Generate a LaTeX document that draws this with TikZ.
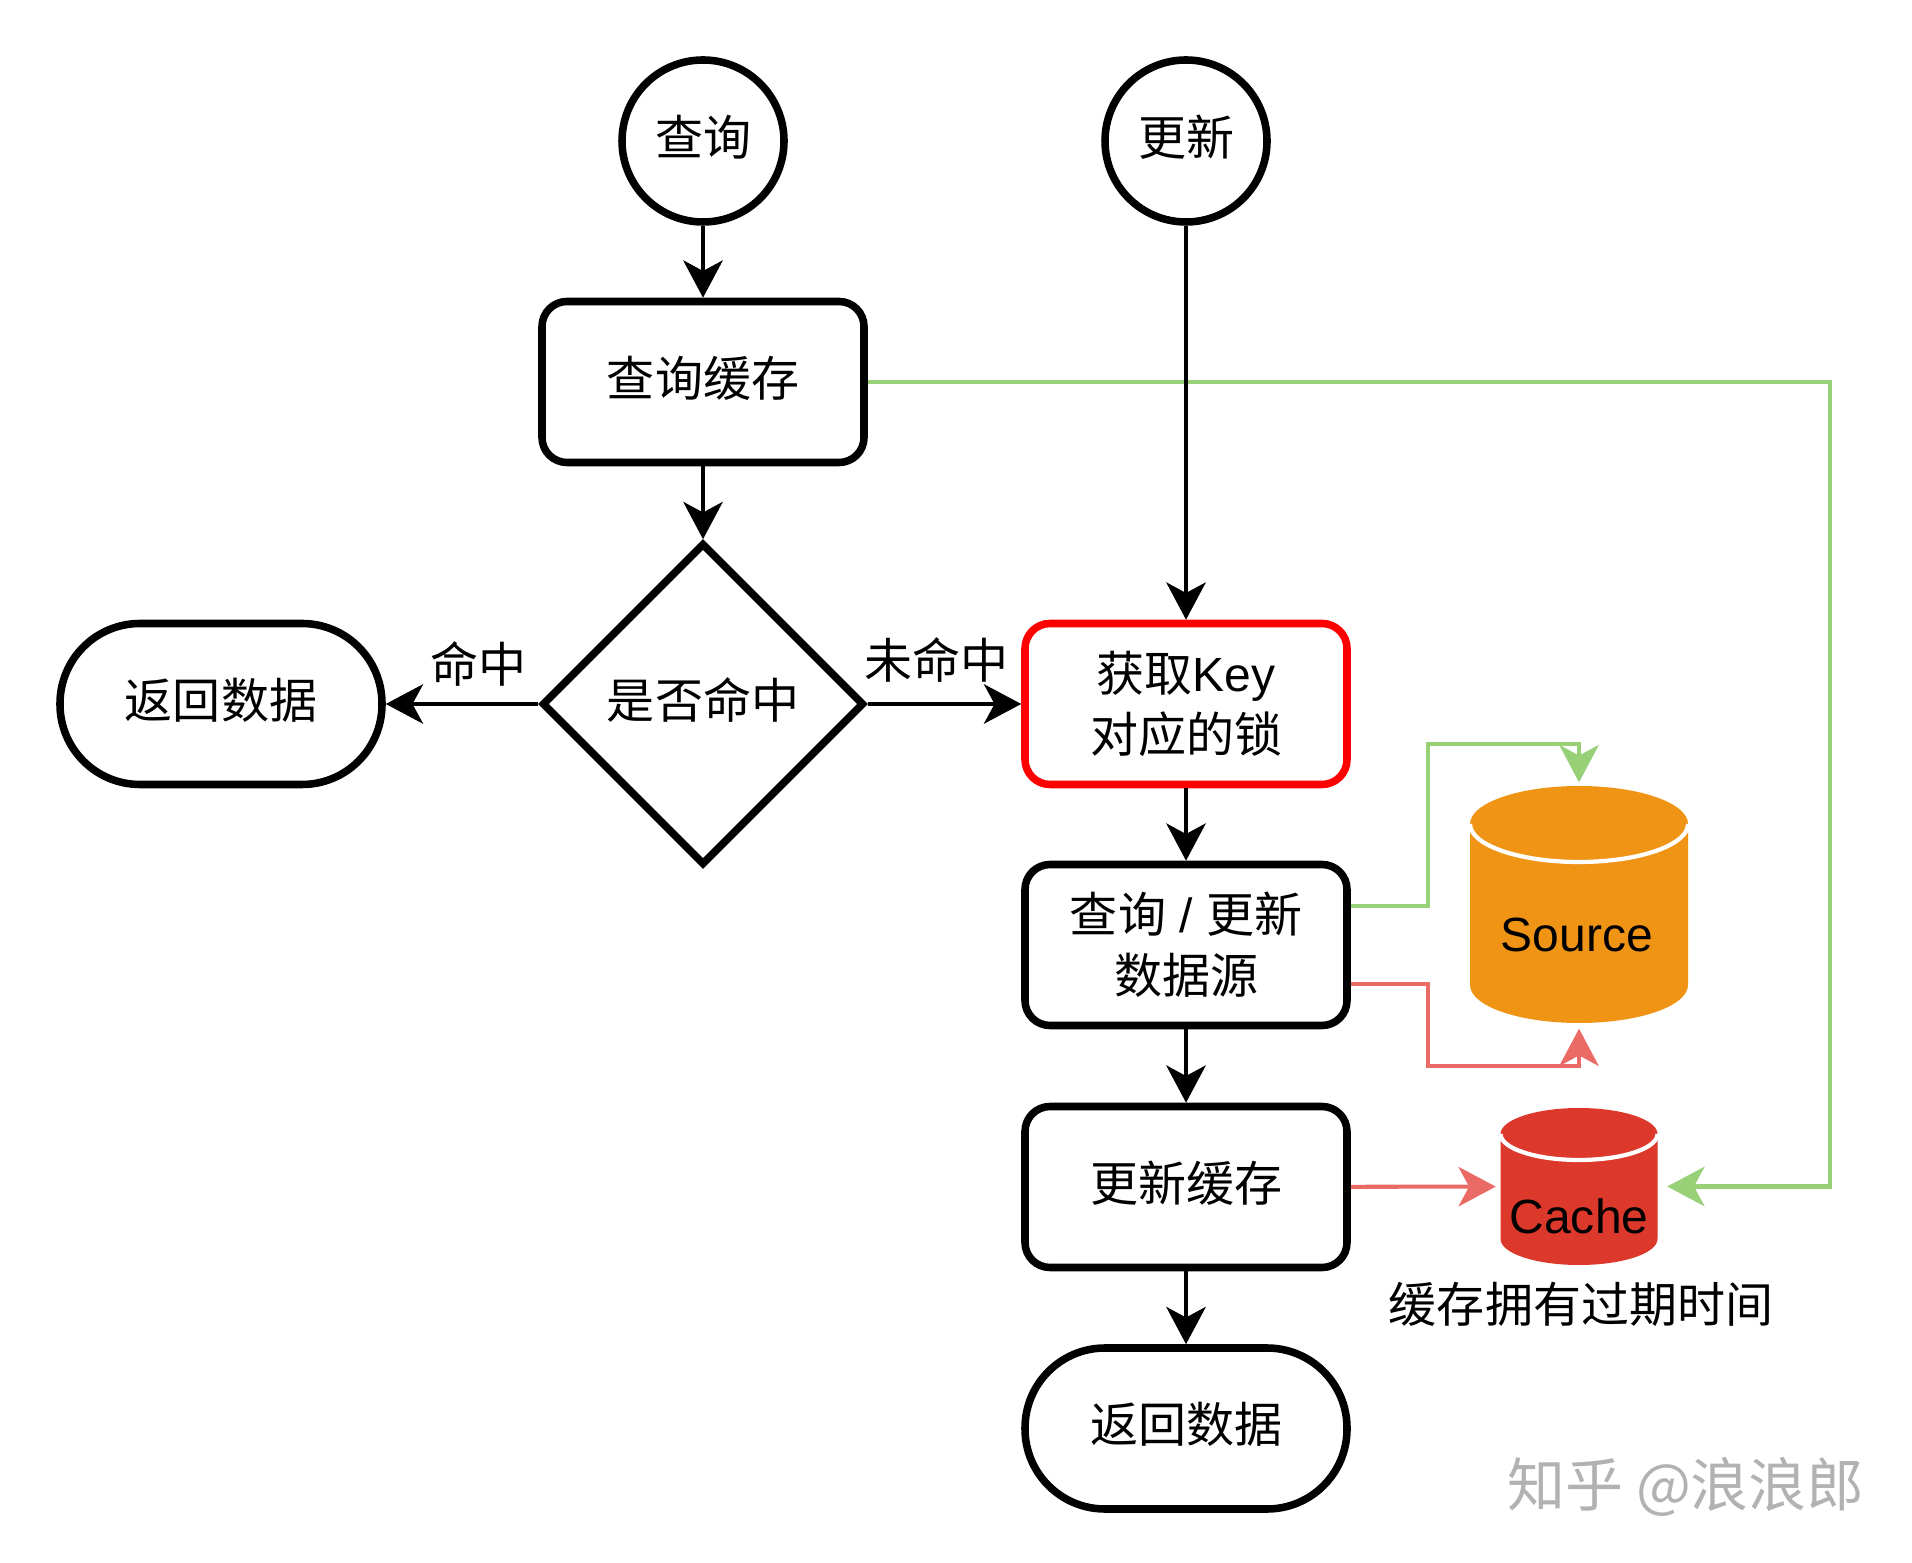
\documentclass[tikz,border=0pt]{standalone}
\usepackage{fontspec}
\setmainfont{Liberation Sans}
\newfontfamily\cjk{Noto Sans CJK SC}
\usetikzlibrary{shapes.geometric,arrows.meta}
\definecolor{hitgreen}{HTML}{97D077}
\definecolor{missred}{HTML}{EA6B66}
\definecolor{srcorange}{HTML}{F09416}
\definecolor{cachered}{HTML}{DC382C}
\tikzset{txt/.style={font=\fontsize{13.66}{17.4}\selectfont\cjk, align=center, text=black}}
\tikzset{step box/.style={txt, text depth=.12cm, draw=black, line width=2.15pt, rounded corners=.25cm, minimum width=3.22cm, minimum height=1.61cm, inner sep=0pt}}
\tikzset{two line/.style={text depth=.05cm}}
\tikzset{term/.style={step box, rounded corners=.8cm}}
\tikzset{start/.style={txt, text depth=.12cm, draw=black, line width=2.15pt, circle, minimum size=1.62cm, inner sep=0pt}}
\tikzset{check/.style={txt, text depth=.12cm, draw=black, line width=2.15pt, diamond, aspect=1, minimum width=3.22cm, minimum height=3.22cm, inner sep=0pt}}
\tikzset{dbnode/.style={minimum width=#1, inner sep=0pt}}
\tikzset{flow/.style={line width=1.2pt, black, -{Stealth[length=10.6pt, width=11.2pt, inset=3pt]}}}
\tikzset{tint/.style={line width=1.15pt, #1, -{Stealth[length=10.6pt, width=11.2pt, inset=3pt]}}}
\begin{document}
\begin{tikzpicture}
\useasboundingbox (0,0) rectangle (19.12,15.62);
% left column
\node[start] (query) at (7.03,14.21) {查询};
\node[step box] (qcache) at (7.03,11.80) {查询缓存};
\node[check] (hit) at (7.03,8.58) {是否命中};
\node[term] (retleft) at (2.21,8.58) {返回数据};
\node[txt] (hitlabel) at (4.78,8.975) {命中};
\node[txt] (misslabel) at (9.36,9.015) {未命中};
% right column
\node[start] (update) at (11.86,14.21) {更新};
\node[step box, two line, draw=red] (lock) at (11.86,8.58) {获取{\rmfamily Key}\\对应的锁};
\node[step box, two line] (srcbox) at (11.86,6.17) {查询{\rmfamily\ /\ }更新\\数据源};
\node[step box] (upcache) at (11.86,3.75) {更新缓存};
\node[term] (retright) at (11.86,1.335) {返回数据};
% source
\fill[srcorange] (14.70,7.38) arc[start angle=180, end angle=0, x radius=1.09, y radius=.38] -- (16.88,5.77) arc[start angle=0, end angle=-180, x radius=1.09, y radius=.38] -- cycle;
\draw[white, line width=1.2pt] (14.70,7.38) arc[start angle=180, end angle=360, x radius=1.09, y radius=.38];
\node[dbnode=2.18cm, minimum height=2.37cm] (source) at (15.79,6.575) {};
\node[txt, font=\fontsize{13.66}{17}\selectfont\rmfamily] (sourcetext) at (15.77,6.27) {Source};
% cache
\fill[cachered] (15.005,4.28) arc[start angle=180, end angle=0, x radius=.785, y radius=.26] -- (16.575,3.23) arc[start angle=0, end angle=-180, x radius=.785, y radius=.26] -- cycle;
\draw[white, line width=1.2pt] (15.005,4.28) arc[start angle=180, end angle=360, x radius=.785, y radius=.26];
\node[dbnode=1.57cm, minimum height=1.57cm] (cache) at (15.79,3.755) {};
\node[txt, font=\fontsize{13.66}{17}\selectfont\rmfamily] (cachetext) at (15.79,3.454) {Cache};
\node[txt] (ttl) at (15.81,2.58) {缓存拥有过期时间};
\node[txt, font=\fontsize{16.5}{20}\selectfont\cjk, text=black!30] (mark) at (16.86,0.75) {知乎 @浪浪郎};
% turning points
\coordinate (greenright) at (18.30,0);
\coordinate (greentop) at (14.28,8.18);
\coordinate (redbottom) at (14.28,4.956);
% coloured lines
\draw[tint=hitgreen, shorten >=.09cm] (qcache.east) -- (qcache.east -| greenright) |- (cache.east);
\draw[tint=hitgreen, shorten >=.03cm] ([yshift=.39cm]srcbox.east) -| (greentop) -| (source.north);
\draw[tint=missred, shorten >=.05cm] ([yshift=-.39cm]srcbox.east) -| (redbottom) -| (source.south);
\draw[tint=missred, shorten >=.04cm] (upcache) -- (cache);
% black lines
\draw[flow] (query) -- (qcache);
\draw[flow] (qcache) -- (hit);
\draw[flow] (hit) -- (retleft);
\draw[flow] (hit) -- (lock);
\draw[flow] (update) -- (lock);
\draw[flow] (lock) -- (srcbox);
\draw[flow] (srcbox) -- (upcache);
\draw[flow] (upcache) -- (retright);
\end{tikzpicture}
\end{document}
